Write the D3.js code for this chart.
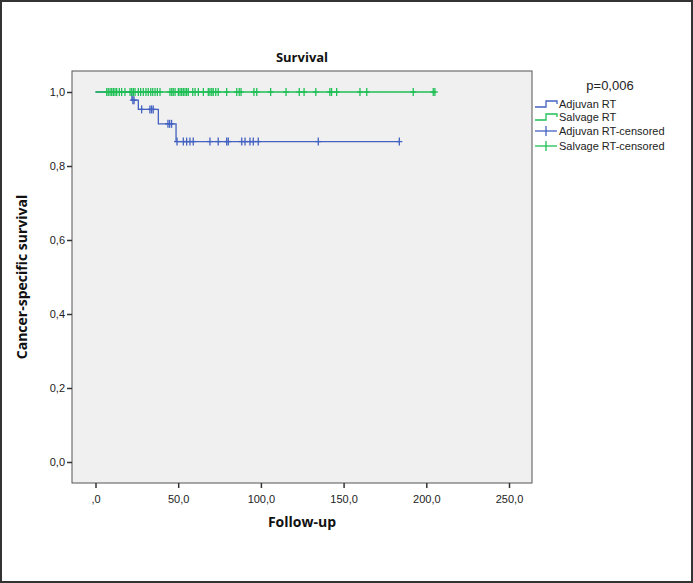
<!DOCTYPE html>
<html><head><meta charset="utf-8">
<script src="https://cdn.jsdelivr.net/npm/d3@7"></script>
<style>body{margin:0;background:#fff}svg{display:block}</style>
</head><body>
<svg id="c" width="693" height="583"></svg>
<script>
const title = "Survival";
const xLabel = "Follow-up";
const yLabel = "Cancer-specific survival";
const pText = "p=0,006";
const xTicks = [0, 50, 100, 150, 200, 250];
const xTickLabels = [",0", "50,0", "100,0", "150,0", "200,0", "250,0"];
const yTicks = [0, 0.2, 0.4, 0.6, 0.8, 1.0];
const yTickLabels = ["0,0", "0,2", "0,4", "0,6", "0,8", "1,0"];
const legendLabels = ["Adjuvan RT", "Salvage RT", "Adjuvan RT-censored", "Salvage RT-censored"];

// Adjuvant RT step curve
const adjTimes = [0, 22, 25.9, 38, 48.7];
const adjSurv = [1, 0.978, 0.953, 0.914, 0.866];
const adjEnd = 184;
const adjCensTimes = [22.6, 23.3, 27.9, 32.9, 33.9, 34.9, 43.8, 44.8, 46, 49.3, 53.1, 55.1, 57.1, 59.1, 69.2, 74.2, 79.3, 80.3, 88.4, 90.4, 93.4, 95.4, 98.4, 134.7, 183.7];
// Salvage RT
const salTimes = [0];
const salSurv = [1];
const salEnd = 205.5;
const salCensTimes = [6.8, 7.7, 8.8, 9.8, 10.8, 11.8, 12.8, 14.4, 15.8, 17.8, 20.9, 21.9, 22.9, 23.9, 25.9, 27.3, 28.9, 30.5, 31.9, 33.4, 34.6, 36, 37.4, 39, 45, 46.1, 47, 48.1, 50.1, 51.1, 52.1, 53.1, 54.1, 55.1, 56.1, 58.8, 60.2, 62.2, 65.2, 68.2, 69.2, 70.3, 71.2, 72.7, 74.2, 79.3, 85.4, 86.9, 88, 95.8, 97.5, 105.9, 115.2, 123.2, 126.1, 133.2, 141.7, 142.7, 145.8, 159.9, 164, 192.1, 204.2, 205.2];

const blue = "#4462c0", green = "#1fbf55";
const svg = d3.select("#c");
const W = 693, H = 583;
svg.append("rect").attr("x",1).attr("y",1).attr("width",W-2).attr("height",H-2)
  .attr("fill","#fff").attr("stroke","#333").attr("stroke-width",2);

const plot = {l:72, t:71, r:532, b:483};
const x = d3.scaleLinear().domain([0,250]).range([95.5,509]);
const y = d3.scaleLinear().domain([0,1]).range([462,92]);

svg.append("rect").attr("x",plot.l).attr("y",plot.t).attr("width",plot.r-plot.l).attr("height",plot.b-plot.t)
  .attr("fill","#f0f0f0").attr("stroke","#555").attr("stroke-width",1);

// axes
const xAxis = d3.axisBottom(x).tickValues(xTicks).tickSize(5).tickFormat((d,i)=>xTickLabels[i]);
const gx = svg.append("g").attr("transform",`translate(0,${plot.b})`).call(xAxis);
gx.select(".domain").remove();
gx.selectAll(".tick line").attr("stroke","#333").attr("stroke-width",1.5);
gx.selectAll("text").attr("font-family","Liberation Sans, Arial, sans-serif").attr("font-size",11).attr("fill","#222").attr("dy","1.1em");

const yAxis = d3.axisLeft(y).tickValues(yTicks).tickSize(5).tickFormat((d,i)=>yTickLabels[i]);
const gy = svg.append("g").attr("transform",`translate(${plot.l},0)`).call(yAxis);
gy.select(".domain").remove();
gy.selectAll(".tick line").attr("stroke","#333").attr("stroke-width",1.5);
gy.selectAll("text").attr("font-family","Liberation Sans, Arial, sans-serif").attr("font-size",11).attr("fill","#222").attr("x",-7);

// curves
function stepPts(times, surv, end){
  const pts = [];
  times.forEach((t,i)=>{
    if(i>0) pts.push([t, surv[i-1]]);
    pts.push([t, surv[i]]);
  });
  pts.push([end, surv[surv.length-1]]);
  return pts;
}
function survAt(times, surv, t){
  let s = surv[0];
  times.forEach((tt,i)=>{ if(tt<=t) s = surv[i]; });
  return s;
}
const line = d3.line().x(d=>x(d[0])).y(d=>y(d[1]));

function drawGroup(times, surv, end, cens, color){
  svg.append("path").datum(stepPts(times,surv,end)).attr("d",line)
    .attr("fill","none").attr("stroke",color).attr("stroke-width",1.3);
  const g = svg.append("g").attr("stroke",color).attr("stroke-width",1.3);
  cens.forEach(t=>{
    const cx = x(t), cy = y(survAt(times,surv,t));
    g.append("line").attr("x1",cx).attr("x2",cx).attr("y1",cy-4).attr("y2",cy+4);
    g.append("line").attr("x1",cx-3).attr("x2",cx+3).attr("y1",cy).attr("y2",cy);
  });
}
drawGroup(adjTimes, adjSurv, adjEnd, adjCensTimes, blue);
drawGroup(salTimes, salSurv, salEnd, salCensTimes, green);

// titles
svg.append("text").attr("x",302).attr("y",62).attr("text-anchor","middle")
  .attr("font-family","Open Sans, Liberation Sans, sans-serif").attr("font-weight","bold").attr("font-size",13).attr("fill","#111").text(title);
svg.append("text").attr("x",302).attr("y",527).attr("text-anchor","middle")
  .attr("font-family","Open Sans, Liberation Sans, sans-serif").attr("font-weight","bold").attr("font-size",14).attr("fill","#111").text(xLabel);
svg.append("text").attr("transform","translate(27,277) rotate(-90)").attr("text-anchor","middle")
  .attr("font-family","Open Sans, Liberation Sans, sans-serif").attr("font-weight","bold").attr("font-size",14).attr("fill","#111").text(yLabel);

// legend
svg.append("text").attr("x",610).attr("y",90).attr("text-anchor","middle")
  .attr("font-family","Liberation Sans, Arial, sans-serif").attr("font-size",13).attr("fill","#222").text(pText);
const legY = [104, 117, 131, 146];
const legColors = [blue, green, blue, green];
legendLabels.forEach((lab,i)=>{
  const yy = legY[i];
  const c = legColors[i];
  if(i<2){
    svg.append("path").attr("d",`M535,${yy+3}H546V${yy-3}H557V${yy}`).attr("fill","none").attr("stroke",c).attr("stroke-width",1.3);
  } else {
    svg.append("line").attr("x1",535).attr("x2",557).attr("y1",yy).attr("y2",yy).attr("stroke",c).attr("stroke-width",1.3);
    svg.append("line").attr("x1",546).attr("x2",546).attr("y1",yy-5).attr("y2",yy+5).attr("stroke",c).attr("stroke-width",1.3);
  }
  svg.append("text").attr("x",559).attr("y",yy+4)
    .attr("font-family","Liberation Sans, Arial, sans-serif").attr("font-size",11).attr("fill","#222").text(lab);
});
</script>
</body></html>
